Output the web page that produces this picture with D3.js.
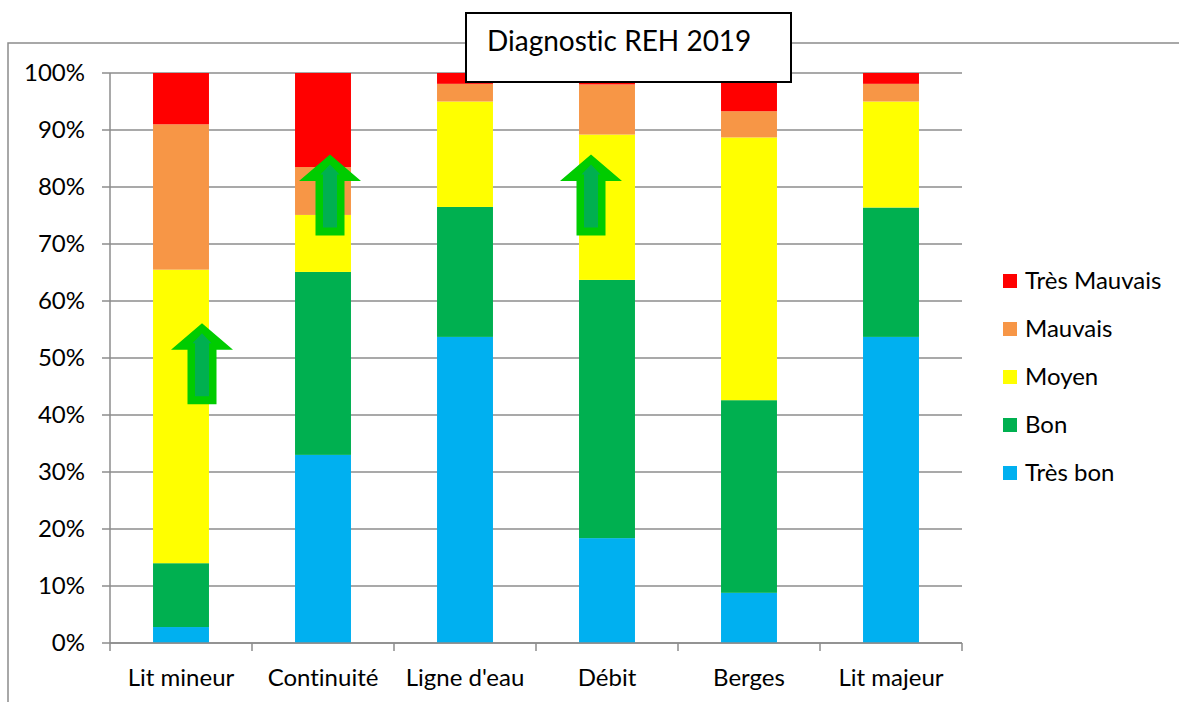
<!DOCTYPE html>
<html>
<head>
<meta charset="utf-8">
<script src="https://cdn.jsdelivr.net/npm/d3@7"></script>
<style>
  body { margin: 0; background: #fff; }
  svg { display: block; }
  text { font-family: Lato, "Open Sans", sans-serif; fill: #000; font-variant-ligatures: none; }
</style>
</head>
<body>
<div id="chart"></div>
<script>
// categories and series values (share of sections, 0..1)
var categories = ["Lit mineur", "Continuité", "Ligne d'eau", "Débit", "Berges", "Lit majeur"];
var seriesNames = ["Très bon", "Bon", "Moyen", "Mauvais", "Très Mauvais"];
var tresBon     = [0.028, 0.330, 0.537, 0.184, 0.088, 0.537];
var bon         = [0.112, 0.321, 0.228, 0.453, 0.338, 0.227];
var moyen       = [0.515, 0.100, 0.185, 0.255, 0.461, 0.186];
var mauvais     = [0.255, 0.084, 0.031, 0.088, 0.046, 0.031];
var tresMauvais = [0.090, 0.165, 0.019, 0.020, 0.067, 0.019];
var colors = ["#00B0F0", "#00B050", "#FFFF00", "#F79646", "#FF0000"];
var yTicks = [0, 0.1, 0.2, 0.3, 0.4, 0.5, 0.6, 0.7, 0.8, 0.9, 1];
var titre = "Diagnostic REH 2019";
// green arrows drawn on top (category, bottom value, tip value)
var fleches = [
    { cat: "Lit mineur", lo: 0.419, hi: 0.561 },
    { cat: "Continuité", lo: 0.715, hi: 0.857 },
    { cat: "Débit",      lo: 0.715, hi: 0.857 }
];

(function() {
    'use strict';

    var W = 1179, H = 702;
    var svg = d3.select("#chart").append("svg")
        .attr("width", W)
        .attr("height", H);

    var gauche = 110, droite = 962, haut = 73, bas = 643;

    var x = d3.scaleBand()
        .domain(categories)
        .range([gauche, droite])
        .paddingInner(0.606)
        .paddingOuter(0.303);

    var xb = d3.scaleLinear().domain([0, categories.length]).range([gauche, droite]);

    var y = d3.scaleLinear().domain([0, 1]).range([bas, haut]);

    // cadre exterieur (seulement haut et gauche visibles)
    svg.append("path")
        .attr("d", "M8,702 L8,43 L1179,43")
        .attr("fill", "none")
        .attr("stroke", "#8c8c8c")
        .attr("stroke-width", 1.5);

    // gridlines
    svg.append("g").selectAll("line")
        .data(yTicks)
        .enter().append("line")
        .attr("x1", gauche - 8)
        .attr("x2", droite)
        .attr("y1", function(d) { return y(d); })
        .attr("y2", function(d) { return y(d); })
        .attr("stroke", "#8c8c8c")
        .attr("stroke-width", 1.5);

    // y labels
    svg.append("g").selectAll("text")
        .data(yTicks)
        .enter().append("text")
        .attr("x", gauche - 25)
        .attr("y", function(d) { return y(d); })
        .attr("dy", "0.35em")
        .attr("text-anchor", "end")
        .style("font-size", "24px")
        .text(d3.format(".0%"));

    // y axis line
    svg.append("line")
        .attr("x1", gauche).attr("x2", gauche)
        .attr("y1", haut).attr("y2", bas)
        .attr("stroke", "#8c8c8c")
        .attr("stroke-width", 1.5);

    // stacked bars
    var rows = categories.map(function(c, i) {
        return { cat: c, "Très bon": tresBon[i], "Bon": bon[i], "Moyen": moyen[i], "Mauvais": mauvais[i], "Très Mauvais": tresMauvais[i] };
    });
    var stack = d3.stack().keys(seriesNames)(rows);

    svg.append("g").selectAll("g")
        .data(stack)
        .enter().append("g")
        .attr("fill", function(d, i) { return colors[i]; })
        .selectAll("rect")
        .data(function(d) { return d; })
        .enter().append("rect")
        .attr("x", function(d) { return x(d.data.cat); })
        .attr("width", x.bandwidth())
        .attr("y", function(d) { return y(d[1]); })
        .attr("height", function(d) { return y(d[0]) - y(d[1]); });

    // x axis
    svg.append("line")
        .attr("x1", gauche).attr("x2", droite)
        .attr("y1", bas).attr("y2", bas)
        .attr("stroke", "#8c8c8c")
        .attr("stroke-width", 1.5);

    svg.append("g").selectAll("line")
        .data(d3.range(categories.length + 1))
        .enter().append("line")
        .attr("x1", function(d) { return xb(d); })
        .attr("x2", function(d) { return xb(d); })
        .attr("y1", bas)
        .attr("y2", bas + 8)
        .attr("stroke", "#8c8c8c")
        .attr("stroke-width", 1.5);

    svg.append("g").selectAll("text")
        .data(categories)
        .enter().append("text")
        .attr("x", function(d) { return x(d) + x.bandwidth() / 2; })
        .attr("y", 678)
        .attr("dy", "0.35em")
        .attr("text-anchor", "middle")
        .style("font-size", "24px")
        .text(function(d) { return d; });

    // fleches vertes
    var decal = [21, 7, -16];
    fleches.forEach(function(f, i) {
        var cx = x(f.cat) + x.bandwidth() / 2 + decal[i];
        var yt = y(f.hi), yb = y(f.lo);
        var outer = [[cx, yt], [cx + 31, yt + 26.5], [cx + 14.5, yt + 26.5], [cx + 14.5, yb],
                     [cx - 14.5, yb], [cx - 14.5, yt + 26.5], [cx - 31, yt + 26.5]];
        var inner = [[cx, yt + 10], [cx + 9.5, yt + 20], [cx + 7, yt + 20], [cx + 7, yb - 8],
                     [cx - 7, yb - 8], [cx - 7, yt + 20], [cx - 9.5, yt + 20]];
        svg.append("polygon")
            .attr("points", outer.join(" "))
            .attr("fill", "#00CC00");
        svg.append("polygon")
            .attr("points", inner.join(" "))
            .attr("fill", "#00B050");
    });

    // legende
    var leg = svg.append("g").selectAll("g")
        .data(seriesNames.slice().reverse())
        .enter().append("g")
        .attr("transform", function(d, i) { return "translate(1003," + (281 + i * 48) + ")"; });

    leg.append("rect")
        .attr("x", 0).attr("y", -7)
        .attr("width", 14).attr("height", 14)
        .attr("fill", function(d) { return colors[seriesNames.indexOf(d)]; });

    leg.append("text")
        .attr("x", 22)
        .attr("dy", "0.35em")
        .style("font-size", "24px")
        .text(function(d) { return d; });

    // titre
    svg.append("rect")
        .attr("x", 466).attr("y", 13)
        .attr("width", 325).attr("height", 69)
        .attr("fill", "#fff")
        .attr("stroke", "#000")
        .attr("stroke-width", 2);

    svg.append("text")
        .attr("x", 487)
        .attr("y", 51)
        .style("font-size", "28px")
        .text(titre);
}());
</script>
</body>
</html>
